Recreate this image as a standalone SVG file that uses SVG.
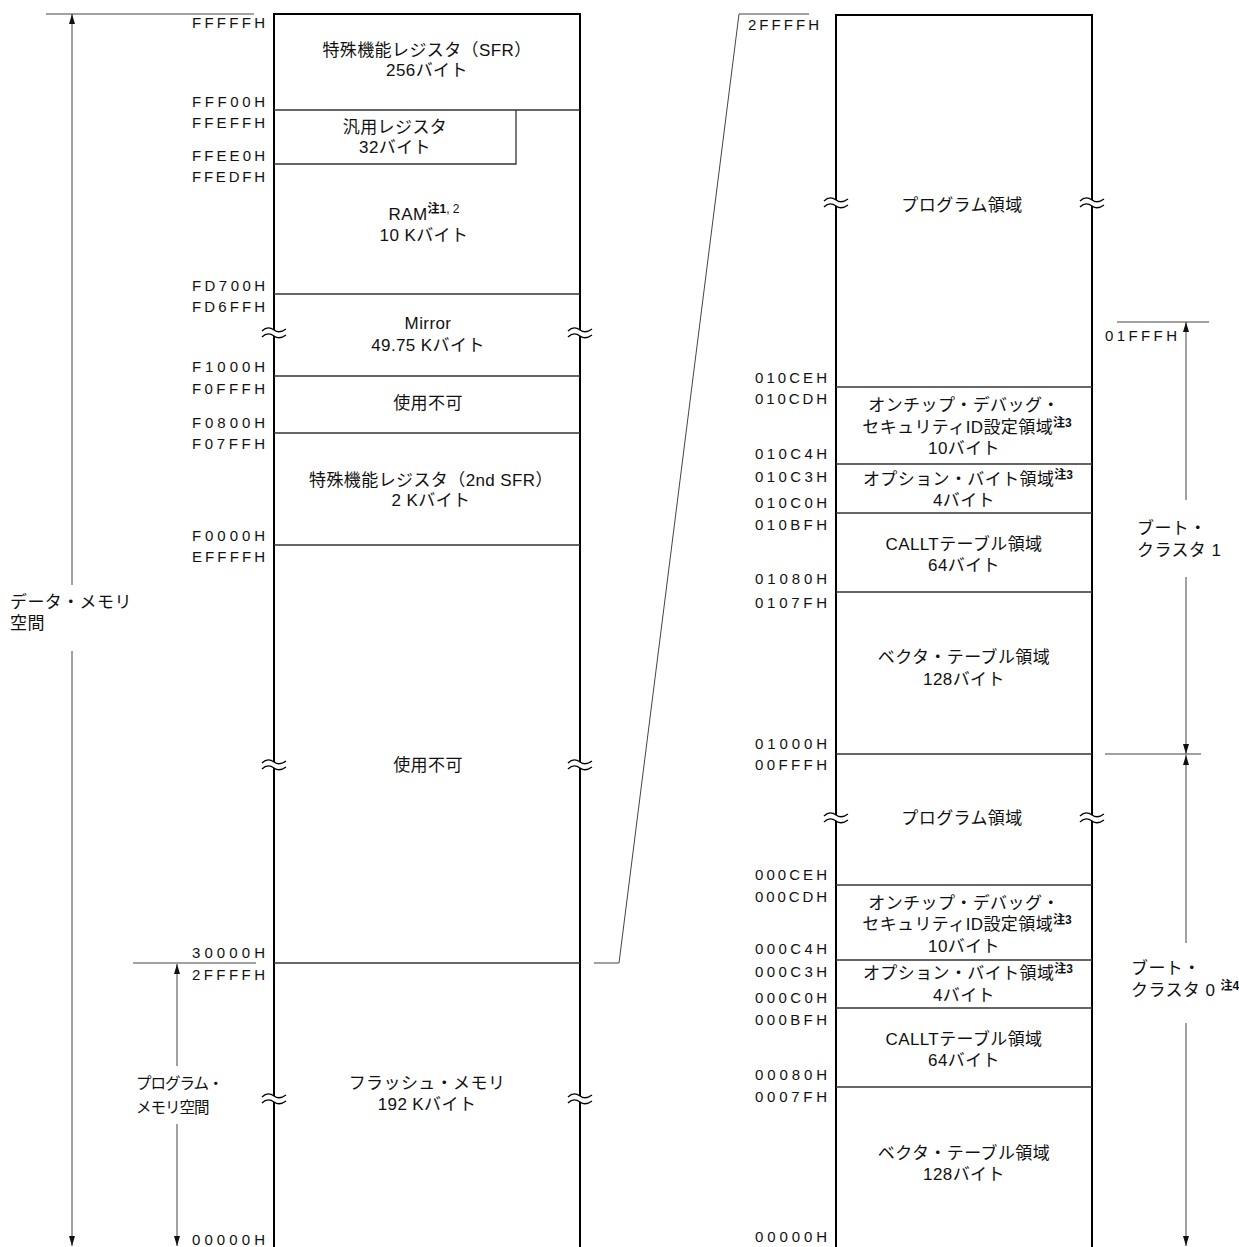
<svg xmlns="http://www.w3.org/2000/svg" width="1239" height="1247" viewBox="0 0 1239 1247">
<style>
  .bg { fill: #ffffff; }
  .frame { stroke: #000; stroke-width: 2; fill: none; }
  .div { stroke: #333; stroke-width: 1.3; fill: none; }
  .dim { stroke: #444; stroke-width: 1; fill: none; }
  .t { font-family: "Liberation Sans", "Noto Sans CJK JP", sans-serif; font-size: 17px; letter-spacing: 0.4px; fill: #111; text-anchor: middle; }
  .tl { font-family: "Liberation Sans", "Noto Sans CJK JP", sans-serif; font-size: 17px; letter-spacing: 0.4px; fill: #111; }
  .tn { font-family: "Liberation Sans", "Noto Sans CJK JP", sans-serif; font-size: 15.5px; letter-spacing: -1px; fill: #111; }
  .a { font-family: "Liberation Sans", sans-serif; font-size: 15px; fill: #111; }
  .sup { font-size: 12px; font-weight: bold; letter-spacing: 0px; }
  .supn { font-size: 12px; letter-spacing: 0px; }
  .brk { stroke: #000; stroke-width: 1.3; fill: none; }
</style>
<defs>
  <marker id="arr" viewBox="0 0 10 6" refX="10" refY="3" markerWidth="10" markerHeight="6" markerUnits="userSpaceOnUse" orient="auto-start-reverse">
    <path d="M0,0 L10,3 L0,6 z" fill="#111"/>
  </marker>
  <g id="brk">
    <rect x="-4" y="-3" width="8" height="6" fill="#fff"/>
    <path class="brk" d="M-12,-2 C-8,-6 -4,-6 0,-3 S8,-1 12,-4"/>
    <path class="brk" d="M-12,4 C-8,0 -4,0 0,3 S8,5 12,2"/>
  </g>
</defs>
<rect class="bg" x="0" y="0" width="1239" height="1247"/>

<!-- Left memory map -->
<g id="left-map">
  <path class="frame" d="M274,1247 V14 H580 V1247"/>
  <line class="div" x1="274" y1="110" x2="580" y2="110"/>
  <line class="div" x1="274" y1="294" x2="580" y2="294"/>
  <line class="div" x1="274" y1="376" x2="580" y2="376"/>
  <line class="div" x1="274" y1="433" x2="580" y2="433"/>
  <line class="div" x1="274" y1="545" x2="580" y2="545"/>
  <line class="div" x1="274" y1="963" x2="580" y2="963"/>
</g>
<g id="sfr">
  <text class="t" x="427" y="56">特殊機能レジスタ（SFR）</text>
  <text class="t" x="427" y="76">256バイト</text>
</g>
<g id="gpr">
  <path class="div" d="M274,164 H516 V110"/>
  <text class="t" x="395" y="133">汎用レジスタ</text>
  <text class="t" x="395" y="153">32バイト</text>
</g>
<g id="ram">
  <text class="t" x="424" y="220">RAM<tspan class="sup" dy="-7">注1</tspan><tspan class="supn">, 2</tspan></text>
  <text class="t" x="424" y="241">10 Kバイト</text>
</g>
<g id="mirror">
  <text class="t" x="428" y="329">Mirror</text>
  <text class="t" x="428" y="351">49.75 Kバイト</text>
  <use href="#brk" x="274" y="333"/>
  <use href="#brk" x="580" y="333"/>
</g>
<g id="reserved1">
  <text class="t" x="428" y="409">使用不可</text>
</g>
<g id="sfr2">
  <text class="t" x="431" y="486">特殊機能レジスタ（2nd SFR）</text>
  <text class="t" x="431" y="506">2 Kバイト</text>
</g>
<g id="reserved2">
  <text class="t" x="428" y="771">使用不可</text>
  <use href="#brk" x="274" y="765"/>
  <use href="#brk" x="580" y="765"/>
</g>
<g id="flash">
  <text class="t" x="427" y="1089">フラッシュ・メモリ</text>
  <text class="t" x="427" y="1110">192 Kバイト</text>
  <use href="#brk" x="274" y="1099"/>
  <use href="#brk" x="580" y="1099"/>
</g>

<!-- Left addresses -->
<g id="left-addresses">
  <text class="a" x="192" y="28" textLength="73" lengthAdjust="spacing">FFFFFH</text>
  <text class="a" x="192" y="107" textLength="73" lengthAdjust="spacing">FFF00H</text>
  <text class="a" x="192" y="128" textLength="73" lengthAdjust="spacing">FFEFFH</text>
  <text class="a" x="192" y="161" textLength="73" lengthAdjust="spacing">FFEE0H</text>
  <text class="a" x="192" y="182" textLength="73" lengthAdjust="spacing">FFEDFH</text>
  <text class="a" x="192" y="291" textLength="73" lengthAdjust="spacing">FD700H</text>
  <text class="a" x="192" y="312" textLength="73" lengthAdjust="spacing">FD6FFH</text>
  <text class="a" x="192" y="372" textLength="73" lengthAdjust="spacing">F1000H</text>
  <text class="a" x="192" y="394" textLength="73" lengthAdjust="spacing">F0FFFH</text>
  <text class="a" x="192" y="428" textLength="73" lengthAdjust="spacing">F0800H</text>
  <text class="a" x="192" y="449" textLength="73" lengthAdjust="spacing">F07FFH</text>
  <text class="a" x="192" y="541" textLength="73" lengthAdjust="spacing">F0000H</text>
  <text class="a" x="192" y="562" textLength="73" lengthAdjust="spacing">EFFFFH</text>
  <text class="a" x="192" y="958" textLength="73" lengthAdjust="spacing">30000H</text>
  <text class="a" x="192" y="980" textLength="73" lengthAdjust="spacing">2FFFFH</text>
  <text class="a" x="192" y="1245" textLength="73" lengthAdjust="spacing">00000H</text>
</g>

<!-- Left space labels -->
<g id="data-space">
  <text class="tl" x="10" y="608">データ・メモリ</text>
  <text class="tl" x="10" y="629">空間</text>
</g>
<g id="program-space">
  <text class="tn" x="136" y="1089">プログラム・</text>
  <text class="tn" x="136" y="1113">メモリ空間</text>
</g>

<!-- Right memory map -->
<g id="right-map">
  <path class="frame" d="M836,1247 V15 H1092 V1247"/>
  <line class="div" x1="836" y1="387" x2="1092" y2="387"/>
  <line class="div" x1="836" y1="464" x2="1092" y2="464"/>
  <line class="div" x1="836" y1="513" x2="1092" y2="513"/>
  <line class="div" x1="836" y1="592" x2="1092" y2="592"/>
  <line class="div" x1="836" y1="754" x2="1092" y2="754"/>
  <line class="div" x1="836" y1="885" x2="1092" y2="885"/>
  <line class="div" x1="836" y1="960" x2="1092" y2="960"/>
  <line class="div" x1="836" y1="1008" x2="1092" y2="1008"/>
  <line class="div" x1="836" y1="1087" x2="1092" y2="1087"/>
</g>
<g id="prog1">
  <text class="t" x="962" y="211">プログラム領域</text>
  <use href="#brk" x="836" y="203"/>
  <use href="#brk" x="1092" y="203"/>
</g>
<g id="ocd1">
  <text class="t" x="964" y="411">オンチップ・デバッグ・</text>
  <text class="t" x="967" y="433">セキュリティID設定領域<tspan class="sup" dy="-6">注3</tspan></text>
  <text class="t" x="964" y="454">10バイト</text>
</g>
<g id="opt1">
  <text class="t" x="968" y="485">オプション・バイト領域<tspan class="sup" dy="-6">注3</tspan></text>
  <text class="t" x="964" y="506">4バイト</text>
</g>
<g id="callt1">
  <text class="t" x="964" y="550">CALLTテーブル領域</text>
  <text class="t" x="964" y="571">64バイト</text>
</g>
<g id="vect1">
  <text class="t" x="964" y="663">ベクタ・テーブル領域</text>
  <text class="t" x="964" y="685">128バイト</text>
</g>
<g id="prog0">
  <text class="t" x="962" y="824">プログラム領域</text>
  <use href="#brk" x="836" y="818"/>
  <use href="#brk" x="1092" y="818"/>
</g>
<g id="ocd0">
  <text class="t" x="964" y="909">オンチップ・デバッグ・</text>
  <text class="t" x="967" y="930">セキュリティID設定領域<tspan class="sup" dy="-6">注3</tspan></text>
  <text class="t" x="964" y="952">10バイト</text>
</g>
<g id="opt0">
  <text class="t" x="968" y="979">オプション・バイト領域<tspan class="sup" dy="-6">注3</tspan></text>
  <text class="t" x="964" y="1001">4バイト</text>
</g>
<g id="callt0">
  <text class="t" x="964" y="1045">CALLTテーブル領域</text>
  <text class="t" x="964" y="1066">64バイト</text>
</g>
<g id="vect0">
  <text class="t" x="964" y="1159">ベクタ・テーブル領域</text>
  <text class="t" x="964" y="1180">128バイト</text>
</g>

<!-- Right addresses -->
<g id="right-addresses">
  <text class="a" x="748" y="30" textLength="71" lengthAdjust="spacing">2FFFFH</text>
  <text class="a" x="755" y="383" textLength="72" lengthAdjust="spacing">010CEH</text>
  <text class="a" x="755" y="404" textLength="72" lengthAdjust="spacing">010CDH</text>
  <text class="a" x="755" y="459" textLength="72" lengthAdjust="spacing">010C4H</text>
  <text class="a" x="755" y="482" textLength="72" lengthAdjust="spacing">010C3H</text>
  <text class="a" x="755" y="508" textLength="72" lengthAdjust="spacing">010C0H</text>
  <text class="a" x="755" y="530" textLength="72" lengthAdjust="spacing">010BFH</text>
  <text class="a" x="755" y="584" textLength="72" lengthAdjust="spacing">01080H</text>
  <text class="a" x="755" y="608" textLength="72" lengthAdjust="spacing">0107FH</text>
  <text class="a" x="755" y="749" textLength="72" lengthAdjust="spacing">01000H</text>
  <text class="a" x="755" y="770" textLength="72" lengthAdjust="spacing">00FFFH</text>
  <text class="a" x="755" y="880" textLength="72" lengthAdjust="spacing">000CEH</text>
  <text class="a" x="755" y="902" textLength="72" lengthAdjust="spacing">000CDH</text>
  <text class="a" x="755" y="954" textLength="72" lengthAdjust="spacing">000C4H</text>
  <text class="a" x="755" y="977" textLength="72" lengthAdjust="spacing">000C3H</text>
  <text class="a" x="755" y="1003" textLength="72" lengthAdjust="spacing">000C0H</text>
  <text class="a" x="755" y="1025" textLength="72" lengthAdjust="spacing">000BFH</text>
  <text class="a" x="755" y="1080" textLength="72" lengthAdjust="spacing">00080H</text>
  <text class="a" x="755" y="1102" textLength="72" lengthAdjust="spacing">0007FH</text>
  <text class="a" x="755" y="1242" textLength="72" lengthAdjust="spacing">00000H</text>
  <text class="a" x="1105" y="341" textLength="72" lengthAdjust="spacing">01FFFH</text>
</g>

<g id="boot1">
  <text class="tl" x="1137" y="534">ブート・</text>
  <text class="tl" x="1137" y="556">クラスタ 1</text>
</g>
<g id="boot0">
  <text class="tl" x="1131" y="974">ブート・</text>
  <text class="tl" x="1131" y="996">クラスタ 0 <tspan class="sup" dy="-6">注4</tspan></text>
</g>

<!-- Connectors -->
<g id="connectors">
  <line class="dim" x1="46" y1="14" x2="254" y2="14"/>
  <line class="dim" x1="72" y1="14" x2="72" y2="585" marker-start="url(#arr)"/>
  <line class="dim" x1="72" y1="651" x2="72" y2="1246" marker-end="url(#arr)"/>
  <line class="dim" x1="133" y1="963" x2="256" y2="963"/>
  <line class="dim" x1="177" y1="964" x2="177" y2="1066" marker-start="url(#arr)"/>
  <line class="dim" x1="177" y1="1124" x2="177" y2="1246" marker-end="url(#arr)"/>
  <polyline class="dim" points="594,963 619,963 739,14 809,14"/>
  <line class="dim" x1="1117" y1="322" x2="1209" y2="322"/>
  <line class="dim" x1="1186" y1="322" x2="1186" y2="500" marker-start="url(#arr)"/>
  <line class="dim" x1="1186" y1="577" x2="1186" y2="754" marker-end="url(#arr)"/>
  <line class="dim" x1="1105" y1="754" x2="1201" y2="754"/>
  <line class="dim" x1="1186" y1="755" x2="1186" y2="943" marker-start="url(#arr)"/>
  <line class="dim" x1="1186" y1="1023" x2="1186" y2="1246" marker-end="url(#arr)"/>
</g>
</svg>
